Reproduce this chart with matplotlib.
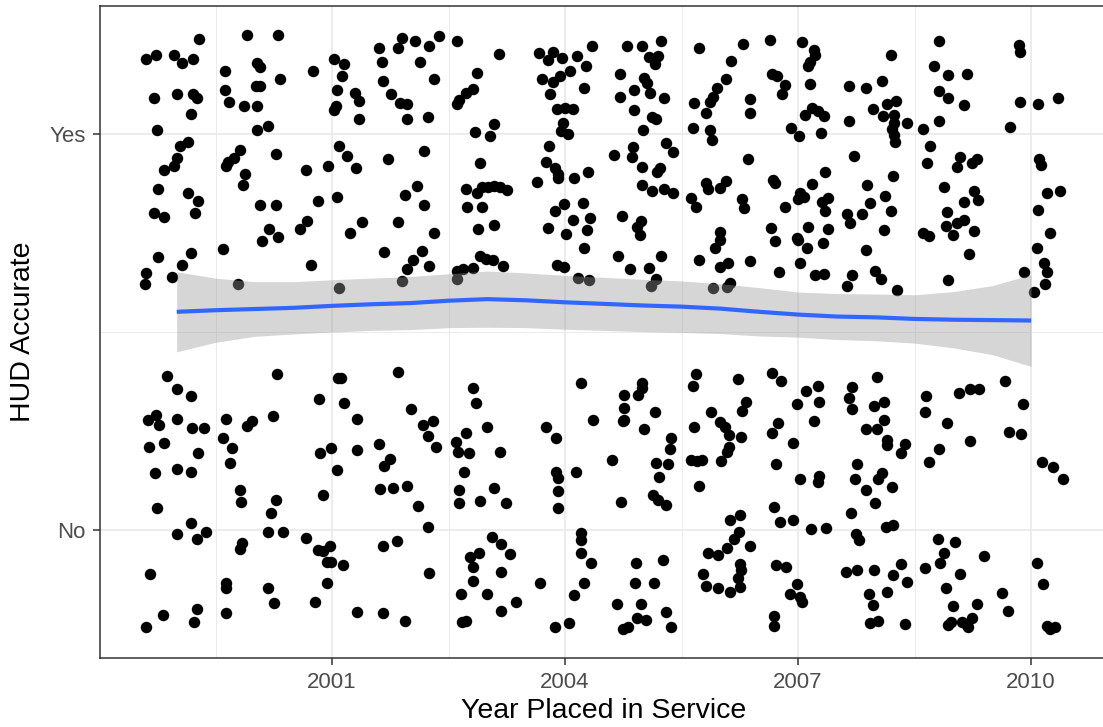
""" Jittered HUD accuracy by year placed in service, with loess smooth """

import numpy as np
import matplotlib
matplotlib.use('Agg')
from matplotlib import pyplot as plt

# jittered points as (year placed in service, HUD accurate) with No = 1, Yes = 2
yes_a = [(1999.29, 2.24), (1999.90, 2.25), (2000.31, 2.25), (1998.60, 2.19), (1998.73, 2.20), (1998.96, 2.20),
         (1999.07, 2.18), (1999.21, 2.19), (1999.62, 2.16), (2000.04, 2.18), (2000.07, 2.17), (2000.33, 2.14),
         (2000.76, 2.16), (2001.02, 2.19), (1998.71, 2.09), (1999.01, 2.10), (1999.21, 2.10), (1999.26, 2.09),
         (1999.62, 2.11), (1999.67, 2.08), (1999.86, 2.07), (2000.02, 2.12), (2000.07, 2.12), (2000.03, 2.07),
         (2001.07, 2.11), (2001.02, 2.06), (2001.05, 2.07), (1999.18, 2.05), (1998.74, 2.01), (2000.03, 2.01),
         (2000.17, 2.02), (1999.15, 1.98), (1999.04, 1.97), (1999.01, 1.94), (1998.97, 1.92), (1998.83, 1.91),
         (1999.82, 1.96), (1999.74, 1.94), (1999.66, 1.93), (1999.63, 1.92), (1999.88, 1.90), (2000.28, 1.95),
         (2001.09, 1.97), (2000.67, 1.91), (2000.95, 1.92), (1998.76, 1.86), (1999.85, 1.87), (1999.15, 1.85),
         (1999.27, 1.83), (1999.24, 1.80), (1998.71, 1.80), (1998.83, 1.79), (2000.07, 1.82), (2000.28, 1.82),
         (2000.82, 1.83), (2001.07, 1.84), (2000.68, 1.78), (2000.59, 1.76), (2000.19, 1.76), (2000.30, 1.74),
         (2000.10, 1.73), (1998.76, 1.69), (1999.19, 1.70), (1999.07, 1.67), (1999.59, 1.71), (2000.73, 1.67),
         (1998.60, 1.65), (1998.59, 1.62), (1998.94, 1.64), (1999.79, 1.62), (2001.09, 1.61)]

yes_b = [(2001.15, 2.176), (2001.13, 2.146), (2001.30, 2.103), (2001.35, 2.083), (2001.35, 2.038), (2001.60, 2.216),
         (2001.64, 2.182), (2001.66, 2.134), (2001.76, 2.101), (2001.90, 2.243), (2001.85, 2.216), (2002.07, 2.235),
         (2002.25, 2.221), (2002.38, 2.247), (2002.61, 2.236), (2002.13, 2.183), (2002.31, 2.139), (2001.88, 2.079),
         (2001.96, 2.075), (2001.97, 2.039), (2002.23, 2.043), (2003.15, 2.202), (2002.86, 2.153), (2002.81, 2.113),
         (2002.73, 2.104), (2002.63, 2.086), (2002.61, 2.075), (2003.09, 2.024), (2002.84, 2.005), (2003.03, 1.996),
         (2003.66, 2.205), (2003.85, 2.208), (2003.78, 2.187), (2003.96, 2.191), (2004.16, 2.197), (2003.70, 2.140),
         (2003.84, 2.131), (2003.94, 2.146), (2004.06, 2.158), (2003.80, 2.100), (2003.90, 2.062), (2004.00, 2.065),
         (2004.10, 2.062), (2003.97, 2.027), (2003.95, 2.007), (2004.04, 2.001), (2001.19, 1.945), (2001.31, 1.913),
         (2001.72, 1.936), (2002.18, 1.956), (2001.94, 1.847), (2002.10, 1.868), (2002.18, 1.820), (2001.23, 1.751),
         (2001.38, 1.777), (2001.85, 1.779), (2002.31, 1.750), (2001.67, 1.701), (2002.04, 1.683), (2002.16, 1.705),
         (2001.97, 1.658), (2002.25, 1.667), (2001.90, 1.629), (2002.91, 1.926), (2002.72, 1.861), (2002.86, 1.851),
         (2002.93, 1.866), (2003.01, 1.866), (2003.09, 1.868), (2003.16, 1.867), (2003.25, 1.858), (2002.74, 1.816),
         (2002.93, 1.815), (2002.88, 1.761), (2003.08, 1.770), (2002.91, 1.692), (2002.98, 1.685), (2003.07, 1.682),
         (2003.20, 1.666), (2002.61, 1.655), (2002.69, 1.658), (2002.81, 1.661), (2002.61, 1.633), (2003.79, 1.969),
         (2003.76, 1.929), (2003.87, 1.915), (2003.91, 1.900), (2003.91, 1.889), (2003.64, 1.879), (2004.12, 1.888),
         (2003.98, 1.823), (2003.87, 1.805), (2004.10, 1.784), (2003.78, 1.763), (2004.01, 1.747), (2003.89, 1.669),
         (2003.98, 1.663), (2004.17, 1.637)]

yes_c = [(2004.35, 2.222), (2004.27, 2.172), (2004.24, 2.116), (2004.80, 2.222), (2004.99, 2.221), (2005.24, 2.235),
         (2005.08, 2.195), (2005.20, 2.197), (2005.16, 2.178), (2004.71, 2.151), (2005.02, 2.142), (2005.05, 2.128),
         (2005.09, 2.103), (2004.89, 2.111), (2004.71, 2.094), (2005.28, 2.090), (2004.89, 2.060), (2005.12, 2.043),
         (2005.17, 2.039), (2005.00, 2.010), (2005.72, 2.217), (2006.29, 2.227), (2006.64, 2.237), (2007.05, 2.233),
         (2007.20, 2.212), (2007.22, 2.199), (2007.15, 2.182), (2007.13, 2.171), (2006.13, 2.184), (2006.07, 2.139),
         (2005.95, 2.115), (2005.91, 2.094), (2005.87, 2.081), (2005.81, 2.054), (2005.66, 2.079), (2006.38, 2.089),
         (2006.38, 2.054), (2006.67, 2.151), (2006.73, 2.146), (2006.83, 2.123), (2006.79, 2.100), (2007.15, 2.127),
         (2007.09, 2.049), (2007.18, 2.065), (2007.26, 2.058), (2006.91, 2.016), (2007.01, 1.995), (2005.65, 2.016),
         (2005.87, 2.010), (2005.89, 1.986), (2004.63, 1.947), (2004.88, 1.966), (2004.86, 1.942), (2005.30, 1.978),
         (2005.39, 1.955), (2004.99, 1.916), (2005.22, 1.913), (2005.18, 1.903), (2004.30, 1.903), (2004.99, 1.871),
         (2005.12, 1.856), (2005.27, 1.861), (2005.39, 1.851), (2004.23, 1.825), (2004.32, 1.788), (2004.28, 1.757),
         (2004.24, 1.711), (2004.73, 1.793), (2004.98, 1.780), (2004.93, 1.766), (2004.96, 1.745), (2004.68, 1.692),
         (2004.84, 1.660), (2005.23, 1.693), (2005.08, 1.662), (2005.17, 1.635), (2005.11, 1.616), (2004.31, 1.631),
         (2006.36, 1.938), (2005.81, 1.877), (2005.84, 1.860), (2005.99, 1.863), (2006.07, 1.881), (2005.62, 1.839),
         (2005.68, 1.816), (2006.28, 1.837), (2006.30, 1.812), (2006.68, 1.885), (2006.70, 1.877), (2006.83, 1.816),
         (2007.03, 1.851), (2007.08, 1.841), (2007.00, 1.835), (2007.18, 1.873), (2006.65, 1.763), (2006.70, 1.730),
         (2005.99, 1.753), (2005.99, 1.732), (2005.93, 1.711), (2005.73, 1.682), (2005.99, 1.665), (2006.10, 1.673),
         (2006.38, 1.680), (2006.12, 1.624), (2006.09, 1.613), (2005.91, 1.610), (2006.75, 1.652), (2007.13, 1.766),
         (2006.98, 1.738), (2007.00, 1.732), (2007.11, 1.711), (2007.03, 1.675), (2007.22, 1.643)]

yes_d = [(2008.19, 2.200), (2007.66, 2.122), (2007.88, 2.115), (2008.08, 2.134), (2008.14, 2.077), (2008.26, 2.084),
         (2007.97, 2.064), (2008.09, 2.045), (2008.24, 2.048), (2008.24, 2.027), (2008.21, 2.012), (2008.24, 1.997),
         (2008.25, 1.980), (2008.40, 2.027), (2007.66, 2.032), (2007.33, 2.045), (2007.30, 2.003), (2008.81, 2.235),
         (2008.75, 2.171), (2008.93, 2.150), (2009.18, 2.151), (2008.81, 2.109), (2008.93, 2.091), (2009.13, 2.073),
         (2008.81, 2.033), (2008.61, 2.012), (2009.84, 2.224), (2009.86, 2.208), (2009.86, 2.081), (2010.09, 2.076),
         (2010.34, 2.090), (2009.73, 2.018), (2007.72, 1.945), (2007.35, 1.904), (2008.22, 1.894), (2007.89, 1.870),
         (2007.31, 1.828), (2007.39, 1.838), (2007.35, 1.805), (2007.93, 1.827), (2008.12, 1.843), (2007.63, 1.799),
         (2007.67, 1.774), (2007.82, 1.798), (2008.20, 1.805), (2007.38, 1.760), (2008.10, 1.757), (2007.32, 1.724),
         (2007.87, 1.707), (2007.33, 1.646), (2007.69, 1.644), (2007.63, 1.617), (2007.99, 1.654), (2008.07, 1.634),
         (2008.27, 1.606), (2008.70, 1.969), (2008.66, 1.926), (2009.09, 1.942), (2009.04, 1.917), (2009.24, 1.927),
         (2009.30, 1.936), (2008.88, 1.865), (2009.26, 1.857), (2009.31, 1.833), (2009.14, 1.828), (2008.92, 1.802),
         (2008.90, 1.767), (2009.00, 1.745), (2009.04, 1.774), (2009.13, 1.783), (2009.27, 1.755), (2008.61, 1.751),
         (2008.68, 1.742), (2009.20, 1.697), (2008.93, 1.631), (2010.10, 1.936), (2010.13, 1.921), (2010.21, 1.851),
         (2010.37, 1.856), (2010.09, 1.808), (2010.24, 1.750), (2010.07, 1.711), (2010.16, 1.673), (2010.20, 1.652),
         (2010.18, 1.620), (2010.04, 1.601), (2009.91, 1.652)]

no_a = [(1998.88, 1.390), (1999.00, 1.356), (1999.18, 1.338), (1998.63, 1.278), (1998.73, 1.290), (1998.77, 1.265),
        (1999.00, 1.280), (1999.20, 1.257), (1999.35, 1.258), (1998.64, 1.210), (1998.83, 1.220), (1999.27, 1.195),
        (1998.72, 1.143), (1999.00, 1.155), (1999.18, 1.147), (1998.75, 1.056), (1999.18, 1.018), (1999.01, 0.991),
        (1999.26, 0.978), (1999.38, 0.995), (1998.66, 0.888), (1998.82, 0.786), (1998.60, 0.756), (1999.26, 0.800),
        (1999.22, 0.767), (1999.64, 1.280), (1999.60, 1.232), (1999.71, 1.206), (1999.68, 1.169), (1999.91, 1.263),
        (1999.97, 1.275), (2000.29, 1.393), (2000.24, 1.288), (1999.82, 1.101), (1999.83, 1.070), (2000.28, 1.076),
        (2000.21, 1.042), (2000.18, 0.994), (2000.37, 0.994), (1999.84, 0.966), (1999.82, 0.951), (1999.64, 0.865),
        (1999.63, 0.854), (1999.64, 0.790), (2000.18, 0.853), (2000.25, 0.815), (2000.67, 0.981), (2000.83, 1.330),
        (2001.08, 1.385), (2000.84, 1.194), (2000.99, 1.206), (2001.07, 1.152), (2000.88, 1.089), (2000.82, 0.950),
        (2000.88, 0.948), (2000.97, 0.960), (2000.93, 0.918), (2000.99, 0.918), (2000.93, 0.867), (2000.78, 0.818)]

no_b = [(2001.12, 1.383), (2001.15, 1.320), (2001.32, 1.280), (2001.32, 1.202), (2001.85, 1.398), (2002.02, 1.305),
        (2002.17, 1.265), (2002.30, 1.276), (2002.23, 1.237), (2002.34, 1.210), (2001.61, 1.216), (2001.74, 1.179),
        (2001.67, 1.161), (2001.62, 1.103), (2001.78, 1.105), (2001.96, 1.111), (2002.11, 1.060), (2002.24, 1.007),
        (2001.65, 0.960), (2001.84, 0.972), (2001.14, 0.912), (2002.25, 0.892), (2001.32, 0.793), (2001.65, 0.791),
        (2001.94, 0.771), (2002.82, 1.359), (2002.85, 1.321), (2002.72, 1.244), (2002.60, 1.223), (2002.62, 1.196),
        (2002.76, 1.194), (2003.00, 1.259), (2003.16, 1.197), (2002.70, 1.146), (2002.63, 1.101), (2002.64, 1.069),
        (2002.91, 1.074), (2003.08, 1.105), (2003.24, 1.068), (2003.06, 0.983), (2003.17, 0.964), (2003.29, 0.939),
        (2002.89, 0.943), (2002.78, 0.931), (2002.81, 0.906), (2003.17, 0.893), (2002.81, 0.870), (2002.66, 0.838),
        (2003.00, 0.838), (2003.37, 0.818), (2003.18, 0.795), (2002.67, 0.767), (2002.73, 0.771), (2003.75, 1.259),
        (2003.88, 1.232), (2004.14, 1.147), (2003.88, 1.147), (2003.91, 1.131), (2003.91, 1.099), (2003.91, 1.055),
        (2003.68, 0.865), (2004.11, 0.835), (2003.87, 0.756), (2004.05, 0.765)]

no_c = [(2004.21, 1.372), (2004.36, 1.278), (2004.21, 0.992), (2004.21, 0.975), (2004.21, 0.941), (2004.33, 0.917),
        (2004.24, 0.865), (2004.76, 1.341), (2004.99, 1.370), (2004.99, 1.358), (2004.94, 1.341), (2004.76, 1.307),
        (2004.76, 1.279), (2004.74, 1.275), (2005.16, 1.298), (2005.01, 1.254), (2005.36, 1.233), (2005.35, 1.204),
        (2004.61, 1.178), (2005.17, 1.168), (2005.33, 1.166), (2005.21, 1.133), (2004.72, 1.071), (2005.13, 1.088),
        (2005.20, 1.076), (2005.30, 1.063), (2004.91, 0.916), (2005.26, 0.924), (2004.90, 0.865), (2005.14, 0.865),
        (2004.67, 0.814), (2004.98, 0.812), (2005.30, 0.794), (2004.92, 0.777), (2005.04, 0.773), (2004.75, 0.749),
        (2004.81, 0.756), (2005.37, 0.756), (2005.68, 1.394), (2005.65, 1.364), (2006.23, 1.382), (2005.88, 1.297),
        (2006.33, 1.324), (2006.28, 1.301), (2005.66, 1.259), (2005.99, 1.273), (2006.06, 1.261), (2006.11, 1.241),
        (2006.27, 1.235), (2006.11, 1.210), (2006.08, 1.196), (2005.62, 1.178), (2005.70, 1.174), (2005.76, 1.177),
        (2006.01, 1.174), (2005.73, 1.110), (2006.67, 1.397), (2006.78, 1.376), (2007.10, 1.351), (2007.26, 1.363),
        (2006.98, 1.318), (2007.27, 1.324), (2006.74, 1.269), (2006.67, 1.244), (2007.21, 1.274), (2006.94, 1.220),
        (2006.71, 1.166), (2007.02, 1.128), (2007.27, 1.136), (2007.25, 1.122), (2006.69, 1.059), (2006.77, 1.019),
        (2006.94, 1.025), (2007.16, 1.002), (2006.12, 1.025), (2006.25, 1.038), (2006.24, 0.995), (2006.18, 0.978),
        (2006.38, 0.960), (2006.09, 0.954), (2005.97, 0.936), (2005.84, 0.943), (2006.25, 0.913), (2006.27, 0.899),
        (2006.22, 0.879), (2006.25, 0.857), (2005.78, 0.888), (2005.81, 0.858), (2005.97, 0.854), (2006.12, 0.844),
        (2006.72, 0.912), (2006.84, 0.907), (2006.98, 0.863), (2006.89, 0.838), (2007.03, 0.831), (2007.05, 0.819),
        (2006.69, 0.783), (2006.69, 0.757)]

no_d = [(2007.36, 1.004), (2007.69, 1.360), (2007.65, 1.334), (2007.70, 1.305), (2008.02, 1.387), (2007.98, 1.313),
        (2008.11, 1.324), (2008.10, 1.279), (2007.88, 1.254), (2008.01, 1.254), (2008.15, 1.227), (2008.14, 1.214),
        (2008.38, 1.216), (2008.32, 1.195), (2007.76, 1.166), (2007.73, 1.130), (2007.88, 1.101), (2008.03, 1.129),
        (2008.08, 1.143), (2008.21, 1.108), (2007.99, 1.069), (2007.68, 1.043), (2008.13, 1.007), (2008.22, 1.012),
        (2007.75, 0.989), (2007.78, 0.976), (2007.62, 0.895), (2007.76, 0.899), (2007.98, 0.899), (2008.33, 0.913),
        (2008.22, 0.886), (2008.40, 0.868), (2007.91, 0.838), (2007.97, 0.810), (2008.14, 0.844), (2007.92, 0.764),
        (2008.03, 0.770), (2008.38, 0.762), (2008.65, 1.338), (2008.63, 1.297), (2008.68, 1.172), (2008.81, 1.205),
        (2008.92, 1.269), (2009.07, 1.347), (2009.21, 1.356), (2009.33, 1.356), (2009.21, 1.225), (2009.67, 1.377),
        (2009.89, 1.319), (2009.72, 1.247), (2009.87, 1.242), (2010.14, 1.171), (2010.28, 1.158), (2010.41, 1.128),
        (2008.80, 0.978), (2009.02, 0.969), (2008.88, 0.943), (2008.83, 0.917), (2008.63, 0.905), (2009.39, 0.934),
        (2009.09, 0.889), (2008.90, 0.853), (2008.99, 0.808), (2009.30, 0.814), (2009.63, 0.840), (2009.70, 0.795),
        (2008.93, 0.760), (2008.97, 0.768), (2009.11, 0.768), (2009.17, 0.760), (2009.24, 0.777), (2009.19, 0.754),
        (2010.07, 0.916), (2010.15, 0.864), (2010.21, 0.758), (2010.31, 0.756), (2010.24, 0.749)]

# loess fit and half width of its confidence band
smooth_year = [1999.0, 1999.5, 2000.0, 2000.5, 2001.0, 2001.5, 2002.0, 2002.5, 2003.0, 2003.5, 2004.0, 2004.5,
               2005.0, 2005.5, 2006.0, 2006.5, 2007.0, 2007.5, 2008.0, 2008.5, 2009.0, 2009.5, 2010.0]
smooth_fit = [1.551, 1.555, 1.558, 1.561, 1.566, 1.570, 1.573, 1.579, 1.583, 1.580, 1.575, 1.571,
              1.567, 1.564, 1.559, 1.551, 1.544, 1.539, 1.537, 1.533, 1.531, 1.530, 1.529]
smooth_se = [0.101, 0.081, 0.069, 0.066, 0.066, 0.066, 0.067, 0.068, 0.071, 0.069, 0.068, 0.067,
             0.066, 0.065, 0.063, 0.061, 0.057, 0.058, 0.059, 0.061, 0.071, 0.087, 0.116]

x_ticks = [2001, 2004, 2007, 2010]
x_minor = [1999.5, 2002.5, 2005.5, 2008.5]
y_ticks = [1, 2]
y_minor = [1.5]
y_labels = ['No', 'Yes']
x_title = 'Year Placed in Service'
y_title = 'HUD Accurate'


plt.rcParams['font.family'] = ['Liberation Sans', 'DejaVu Sans']

W, H = 1103, 727
fig = plt.figure(figsize=(W / 100, H / 100), dpi=100)
# panel runs a little past the right edge, as in the original
ax = fig.add_axes([99.5 / W, (H - 658.3) / H, (1108 - 99.5) / W, (658.3 - 5.7) / H])

pts = np.array(yes_a + yes_b + yes_c + yes_d + no_a + no_b + no_c + no_d)
ax.scatter(pts[:, 0], pts[:, 1], s=68, c='black', linewidths=0, zorder=2)

fit = np.array(smooth_fit)
se = np.array(smooth_se)
ax.fill_between(smooth_year, fit - se, fit + se, color='#999999', alpha=0.4,
                linewidth=0, zorder=3)
ax.plot(smooth_year, fit, color='#3366FF', lw=3, zorder=4, solid_capstyle='butt')

ax.set_xlim(1998.006, 2010.99)
ax.set_ylim(0.676, 2.324)

ax.set_xticks(x_ticks)
ax.set_xticks(x_minor, minor=True)
ax.set_yticks(y_ticks, labels=y_labels)
ax.set_yticks(y_minor, minor=True)

ax.set_axisbelow(True)
ax.grid(which='major', color='#EBEBEB', lw=1.3)
ax.grid(which='minor', color='#EBEBEB', lw=0.7)

for sp in ax.spines.values():
    sp.set_color('#333333')
    sp.set_linewidth(1.1)

ax.tick_params(which='major', length=5, width=1.1, color='#333333',
               labelcolor='#4D4D4D', labelsize=16, pad=5)
ax.tick_params(which='minor', length=0)

ax.set_xlabel(x_title, fontsize=20.5, va='baseline')
ax.xaxis.set_label_coords(0.5, (658.3 - 718) / 652.6)
ax.set_ylabel(y_title, fontsize=20.5, va='center')
ax.yaxis.set_label_coords((23 - 99.5) / 1008.5, 0.5)

fig.savefig('out.png', dpi=100)
